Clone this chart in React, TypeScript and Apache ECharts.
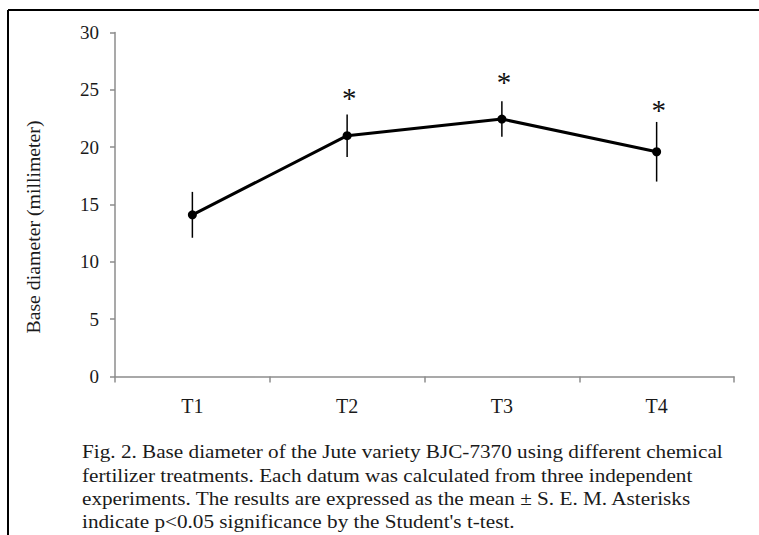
import React, { useEffect, useRef } from "react";
import * as echarts from "echarts";

const categories = ["T1", "T2", "T3", "T4"];
const means = [14.1, 21.0, 22.45, 19.6];
const sem = [2.0, 1.85, 1.55, 2.6];
const asteriskLevels: (number | null)[] = [null, 24.6, 26.0, 23.6];
const yTicks = { min: 0, max: 30, interval: 5 };
const yTitle = "Base diameter (millimeter)";
const captionLines = [
  "Fig. 2. Base diameter of the Jute variety BJC-7370 using different chemical",
  "fertilizer treatments. Each datum was calculated from three independent",
  "experiments. The results are expressed as the mean \u00b1 S. E. M. Asterisks",
  "indicate p<0.05 significance by the Student's t-test.",
];

const FONT = "'Liberation Serif', 'Times New Roman', serif";

export default function App() {
  const ref = useRef<HTMLDivElement>(null);
  useEffect(() => {
    if (!ref.current) return;
    const chart = echarts.init(ref.current, undefined, { renderer: "svg" });
    const errData = categories.map((c, i) => [i, means[i] - sem[i], means[i] + sem[i]]);
    const starData = asteriskLevels
      .map((v, i) => (v == null ? null : [i, v]))
      .filter((d) => d != null);
    chart.setOption({
      animation: false,
      backgroundColor: "#ffffff",
      grid: { left: 115, right: 25, top: 32.5, bottom: 158.5 },
      xAxis: {
        type: "category",
        data: categories,
        boundaryGap: true,
        axisLine: { lineStyle: { color: "#8c8c8c", width: 1.5 } },
        axisTick: { show: true, length: 6, lineStyle: { color: "#8c8c8c", width: 1.5 } },
        axisLabel: { color: "#1a1a1a", fontFamily: FONT, fontSize: 20, margin: 19 },
        splitLine: { show: false },
      },
      yAxis: {
        type: "value",
        min: yTicks.min,
        max: yTicks.max,
        interval: yTicks.interval,
        axisLine: { show: true, lineStyle: { color: "#8c8c8c", width: 1.5 } },
        axisTick: { show: true, length: 5, lineStyle: { color: "#8c8c8c", width: 1.5 } },
        axisLabel: { color: "#1a1a1a", fontFamily: FONT, fontSize: 19, margin: 16 },
        splitLine: { show: false },
      },
      series: [
        {
          type: "line",
          data: means,
          symbol: "circle",
          symbolSize: 9,
          itemStyle: { color: "#000" },
          lineStyle: { color: "#000", width: 3 },
          z: 3,
        },
        {
          type: "custom",
          data: errData,
          z: 2,
          renderItem: (params: any, api: any) => {
            const x = api.value(0);
            const lo = api.coord([x, api.value(1)]);
            const hi = api.coord([x, api.value(2)]);
            return {
              type: "line",
              shape: { x1: lo[0], y1: lo[1], x2: hi[0], y2: hi[1] },
              style: { stroke: "#000", lineWidth: 1.5 },
            };
          },
        },
        {
          type: "custom",
          data: starData,
          z: 4,
          renderItem: (params: any, api: any) => {
            const p = api.coord([api.value(0), api.value(1)]);
            return {
              type: "text",
              x: p[0] + 2,
              y: p[1] + 4,
              style: {
                text: "*",
                font: "29px " + FONT,
                fill: "#111",
                textAlign: "center",
                textVerticalAlign: "middle",
              },
            };
          },
        },
      ],
      graphic: [
        {
          type: "line",
          shape: { x1: 8, y1: 10, x2: 759, y2: 10 },
          style: { stroke: "#000", lineWidth: 2 },
        },
        {
          type: "line",
          shape: { x1: 8, y1: 10, x2: 8, y2: 535 },
          style: { stroke: "#000", lineWidth: 2 },
        },
        {
          type: "text",
          x: 33,
          y: 227,
          rotation: Math.PI / 2,
          style: {
            text: yTitle,
            font: "19.8px " + FONT,
            fill: "#1a1a1a",
            textAlign: "center",
            textVerticalAlign: "middle",
          },
        },
        {
          type: "text",
          x: 82,
          y: 440,
          scaleX: 1.088,
          style: {
            text: captionLines.join("\n"),
            font: "19.5px " + FONT,
            lineHeight: 23.3,
            fill: "#1a1a1a",
          },
        },
      ],
    });
    return () => chart.dispose();
  }, []);
  return (
    <div
      ref={ref}
      style={{ position: "fixed", left: 0, top: 0, width: 759, height: 535 }}
    />
  );
}
